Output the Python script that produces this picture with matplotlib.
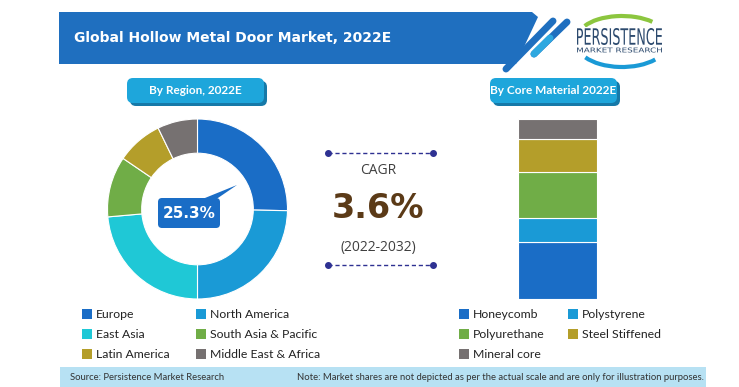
import matplotlib
matplotlib.use("Agg")
import matplotlib.pyplot as plt
from matplotlib.patches import FancyBboxPatch, Polygon, Rectangle, Arc, PathPatch
from matplotlib.textpath import TextPath
from matplotlib.font_manager import FontProperties
from matplotlib.transforms import Affine2D
import numpy as np

W, H = 739, 387

regions = ["Europe", "North America", "East Asia", "South Asia & Pacific",
           "Latin America", "Middle East & Africa"]
region_share = [25.3, 24.7, 23.6, 10.9, 8.3, 7.2]
region_colors = ["#1a6dc6", "#1a9ad6", "#1fc8d6", "#70ad47", "#b49e2a", "#767171"]

materials = ["Honeycomb", "Polystyrene", "Polyurethane", "Steel Stiffened", "Mineral core"]
material_share = [31.7, 13.4, 25.2, 18.7, 11.0]
material_colors = ["#1a6dc6", "#1a9ad6", "#70ad47", "#b49e2a", "#767171"]

cagr_text = "3.6%"
cagr_period = "(2022-2032)"
highlight = "25.3%"

fig = plt.figure(figsize=(W / 100, H / 100), dpi=100)
fig.patch.set_facecolor("white")

bg = fig.add_axes([0, 0, 1, 1])
bg.set_xlim(0, W)
bg.set_ylim(H, 0)
bg.axis("off")

def fx(x0, x1):
    return x0 / W, (x1 - x0) / W

def fy(y0, y1):
    return (H - y1) / H, (y1 - y0) / H

# header banner
banner = Polygon([[59, 12], [532, 12], [538, 17], [516, 64], [59, 64]],
                 closed=True, facecolor="#1f6fbf", edgecolor="none")
bg.add_patch(banner)
bg.text(74, 38, "Global Hollow Metal Door Market, 2022E", color="white",
        fontsize=10, fontweight="bold", va="center", ha="left", family="DejaVu Sans")
bg.plot([553, 506], [21, 69], color="#1f6fbf", lw=5, solid_capstyle="round")
bg.plot([567, 534], [22, 54], color="#1f6fbf", lw=5, solid_capstyle="round")
bg.plot([550, 534], [38, 54], color="#2ea8e0", lw=5, solid_capstyle="round")

# logo
bg.add_patch(Arc((622, 36), 86, 40, theta1=195, theta2=335, color="#8cc63f", lw=3))
bg.add_patch(Arc((622, 44), 90, 46, theta1=25, theta2=160, color="#1a9ad6", lw=3))

def fit_text(s, x0, x1, y0, y1, color, weight="bold"):
    tp = TextPath((0, 0), s, size=10, prop=FontProperties(family="DejaVu Sans", weight=weight))
    ext = tp.get_extents()
    sx = (x1 - x0) / ext.width
    sy = (y1 - y0) / ext.height
    tr = Affine2D().translate(-ext.x0, -ext.y0).scale(sx, -sy).translate(x0, y1)
    path = tr.transform_path(tp)
    bg.add_patch(PathPatch(path, facecolor=color, edgecolor="none", lw=0))

bg.add_patch(Rectangle((575, 27), 90, 28, facecolor="white", edgecolor="none"))
fit_text("PERSISTENCE", 577, 662, 28, 45, "#2c4a6e", weight="normal")
fit_text("MARKET RESEARCH", 577, 662, 47.5, 52.5, "#2c4a6e", weight="normal")

def pill(x0, y0, x1, y1, text):
    sh = FancyBboxPatch((x0 + 3, y0 + 3), x1 - x0, y1 - y0,
                        boxstyle="round,pad=0,rounding_size=6",
                        facecolor="#1679a8", edgecolor="none")
    bg.add_patch(sh)
    p = FancyBboxPatch((x0, y0), x1 - x0, y1 - y0,
                       boxstyle="round,pad=0,rounding_size=6",
                       facecolor="#1ea6db", edgecolor="none")
    bg.add_patch(p)
    bg.text((x0 + x1) / 2, (y0 + y1) / 2, text, color="white", fontsize=8.5,
            fontweight="bold", ha="center", va="center", family="Lato")

pill(127, 78, 264, 103, "By Region, 2022E")
pill(490, 78, 617, 103, "By Core Material 2022E")

# donut
cx, cy, r = 197.5, 209, 90
l, w = fx(cx - r, cx + r)
b, h = fy(cy - r, cy + r)
pax = fig.add_axes([l, b, w, h])
pax.pie(region_share, colors=region_colors, startangle=90, counterclock=False,
        wedgeprops=dict(width=0.38, edgecolor="white", linewidth=0.8))
pax.set_aspect("equal")
pax.set_xlim(-1, 1)
pax.set_ylim(-1, 1)

bg.add_patch(Polygon([[200, 200], [237, 185], [215, 200]], closed=True,
                     facecolor="#1a6dc6", edgecolor="none", zorder=5))
bg.add_patch(FancyBboxPatch((158, 198), 62, 30, boxstyle="round,pad=0,rounding_size=4",
                            facecolor="#1a6dc6", edgecolor="none", zorder=5))
bg.text(189, 213, highlight, color="white", fontsize=11, fontweight="bold",
        ha="center", va="center", zorder=6)

# CAGR block
for yy in (153, 265):
    bg.plot([328, 433], [yy, yy], color="#2e3192", lw=1, ls=(0, (3, 2)))
    bg.plot([328, 433], [yy, yy], "o", color="#2e3192", ms=4)
bg.text(378, 171, "CAGR", color="#404040", fontsize=10, ha="center", va="center",
        family="Open Sans")
bg.text(378, 209, cagr_text, color="#5b3a17", fontsize=24, fontweight="bold",
        ha="center", va="center")
bg.text(378, 247, cagr_period, color="#404040", fontsize=10, ha="center", va="center",
        family="Open Sans")

# stacked bar
l, w = fx(518, 597)
b, h = fy(119, 299)
bax = fig.add_axes([l, b, w, h])
bottom = 0
for v, c in zip(material_share, material_colors):
    bax.bar(0, v, bottom=bottom, width=1, color=c, edgecolor="white", linewidth=0.8)
    bottom += v
bax.set_xlim(-0.5, 0.5)
bax.set_ylim(0, sum(material_share))
bax.axis("off")

def legend_item(x, y, color, label):
    bg.add_patch(Rectangle((x - 5, y - 5), 10, 10, facecolor=color, edgecolor="none"))
    bg.text(x + 9, y, label, fontsize=8.8, color="#222222", va="center", ha="left",
            family="Lato")

rows = [314, 334, 354]
for i, (lab, col) in enumerate(zip(regions, region_colors)):
    x = 87 if i % 2 == 0 else 201
    legend_item(x, rows[i // 2], col, lab)
for i, (lab, col) in enumerate(zip(materials, material_colors)):
    x = 464 if i % 2 == 0 else 573
    legend_item(x, rows[i // 2], col, lab)

bg.add_patch(Rectangle((60, 367), 646, 20, facecolor="#b7e1f3", edgecolor="none"))
bg.text(70, 377, "Source: Persistence Market Research", fontsize=6.8, color="#333333",
        va="center", ha="left", family="Lato")
bg.text(704, 377, "Note: Market shares are not depicted as per the actual scale and are only for illustration purposes.",
        fontsize=6.8, color="#333333", va="center", ha="right", family="Lato")

fig.savefig("out.png", dpi=100, facecolor="white")
